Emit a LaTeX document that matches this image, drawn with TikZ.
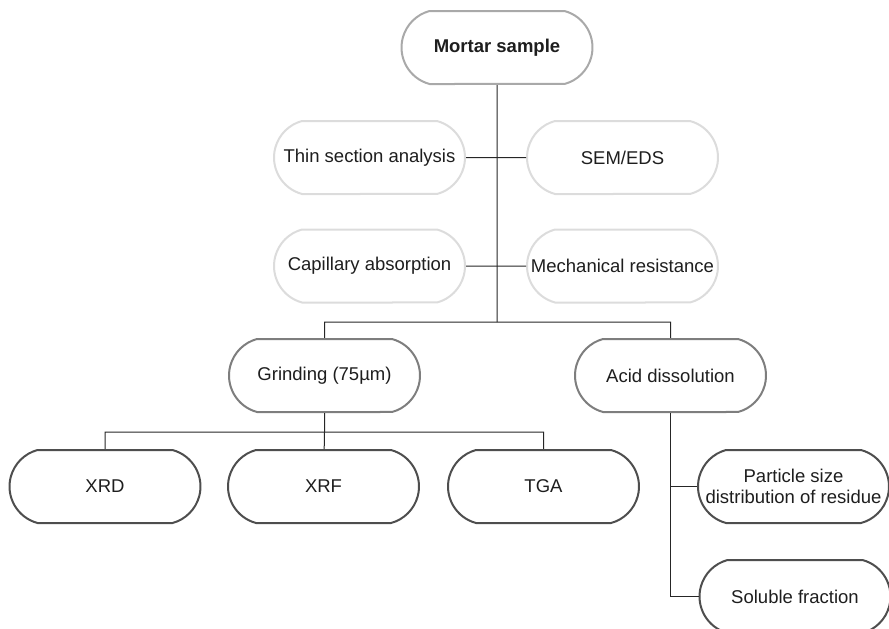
\documentclass[tikz,border=0pt]{standalone}
\usepackage{fontspec}
\setmainfont{Liberation Sans}
\usetikzlibrary{shapes.misc}
\usepackage{xcolor}
\definecolor{lineDark}{HTML}{4E4E4E}
\definecolor{lineMid}{HTML}{7E7E7E}
\definecolor{lineSoft}{HTML}{A9A9A9}
\definecolor{lineLight}{HTML}{DCDCDC}
\definecolor{inkText}{HTML}{1E1E1E}

\begin{document}
\begin{tikzpicture}[x=1pt,y=-1pt,
  stage/.style={draw,rounded rectangle,rounded rectangle arc length=150,fill=white,line width=2pt,minimum width=195pt,minimum height=73pt,align=center,text=inkText,font=\fontsize{18.5}{21.5}\selectfont,inner sep=2pt},
  sample/.style={stage,draw=lineSoft,font=\fontsize{18.5}{21.5}\selectfont\bfseries},
  test/.style={stage,draw=lineLight},
  prep/.style={stage,draw=lineMid},
  lab/.style={stage,draw=lineDark},
  link/.style={line width=1pt,black!85}]
  \useasboundingbox (0,0) rectangle (889,629);

  \node[sample] (mortar) at (497,47.5) {Mortar sample};
  \node[test] (thin) at (369.5,157.5) {Thin section analysis};
  \node[test] (sem) at (622.5,157.5) {SEM/EDS};
  \node[test] (cap) at (369.5,266) {Capillary absorption};
  \node[test] (mech) at (622.5,266) {Mechanical resistance};
  \node[prep] (grind) at (324.5,375.5) {Grinding (75µm)};
  \node[prep] (acid) at (670.5,375.5) {Acid dissolution};
  \node[lab] (xrd) at (105,486.5) {XRD};
  \node[lab] (xrf) at (323.5,486.5) {XRF};
  \node[lab] (tga) at (543.5,486.5) {TGA};
  \node[lab] (psd) at (793.5,486.5) {Particle size\\distribution of residue};
  \node[lab] (sol) at (795,596.5) {Soluble fraction};

  \coordinate (split) at (497,322);
  \coordinate (fork) at (324.5,432);

  % main trunk and side branches
  \draw[link] (mortar) -- (split);
  \draw[link] (thin) -- (sem);
  \draw[link] (cap) -- (mech);
  \draw[link] (grind) -- (grind |- split) -- (acid |- split) -- (acid);

  % grinding branch
  \draw[link] (grind) -- (fork);
  \draw[link] (xrd) -- (xrd |- fork) -- (tga |- fork) -- (tga);
  \draw[link] (fork) -- (xrf);

  % acid branch
  \draw[link] (acid) |- (psd);
  \draw[link] (acid) |- (sol);
\end{tikzpicture}
\end{document}
